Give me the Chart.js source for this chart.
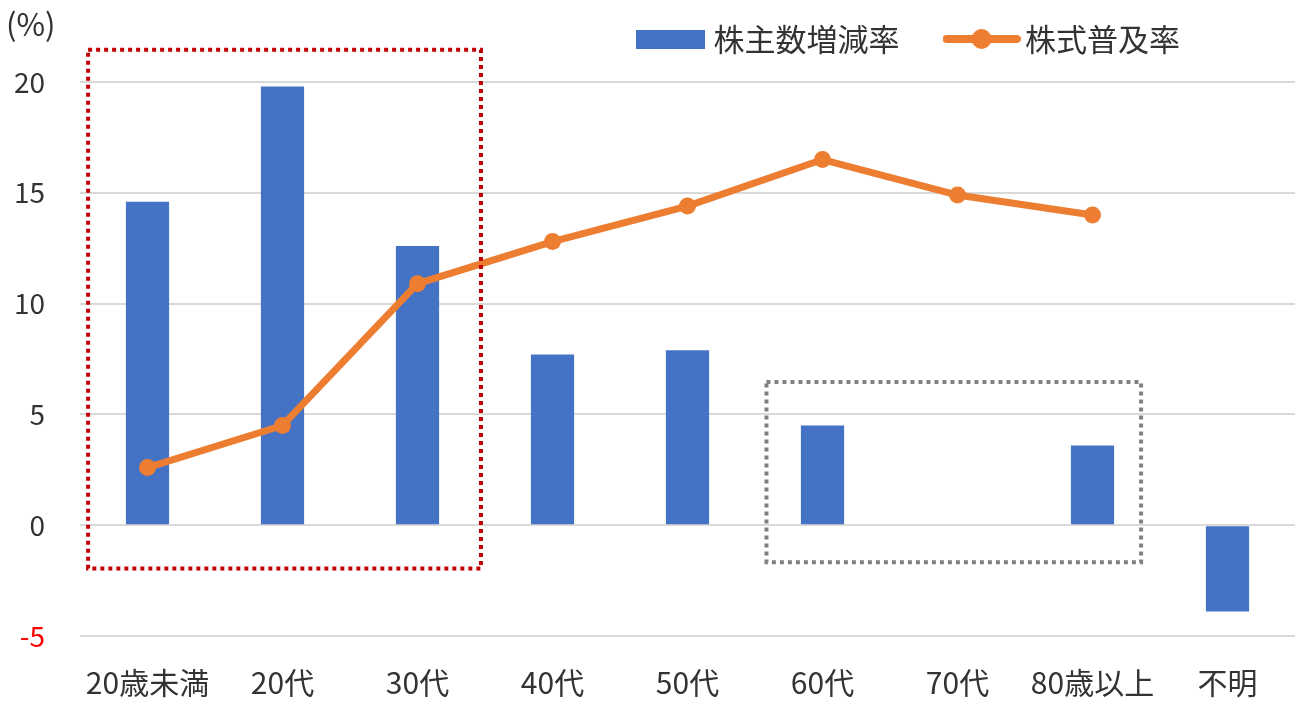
<!DOCTYPE html>
<html>
<head>
<meta charset="utf-8">
<script src="https://cdn.jsdelivr.net/npm/chart.js@4.4.1/dist/chart.umd.min.js"></script>
<style>
  html, body { margin: 0; padding: 0; background: #fff; }
  #wrap { width: 1304px; height: 706px; }
</style>
</head>
<body>
<div id="wrap"><canvas id="myChart"></canvas></div>
<script>
// data
const categories = ['20歳未満', '20代', '30代', '40代', '50代', '60代', '70代', '80歳以上', '不明'];
const holderChange = [14.6, 19.8, 12.6, 7.7, 7.9, 4.5, 0, 3.6, -3.9];   // 株主数増減率
const ownershipRate = [2.6, 4.5, 10.9, 12.8, 14.4, 16.5, 14.9, 14.0, null]; // 株式普及率
const yTicks = [-5, 0, 5, 10, 15, 20];

// dotted highlight frames, in axis units (category index / %)
const frames = [
    { x0: -0.44, x1: 2.47, y0: -1.95, y1: 21.45, color: '#C00000' },
    { x0: 4.585, x1: 7.36, y0: -1.67, y1: 6.46, color: '#808080' }
];

const FONT = "'Noto Sans CJK JP', 'Noto Sans', sans-serif";
const BLUE = '#4472C4';
const ORANGE = '#ED7D31';
const TEXT = '#333';

// legend symbols as small canvases
function barSymbol() {
    const c = document.createElement('canvas');
    c.width = 69; c.height = 19;
    const g = c.getContext('2d');
    g.fillStyle = BLUE;
    g.fillRect(0, 0, 69, 19);
    return c;
}
function lineSymbol() {
    const c = document.createElement('canvas');
    c.width = 78; c.height = 22;
    const g = c.getContext('2d');
    g.strokeStyle = ORANGE;
    g.lineWidth = 8;
    g.lineCap = 'round';
    g.beginPath();
    g.moveTo(4, 11);
    g.lineTo(74, 11);
    g.stroke();
    g.fillStyle = ORANGE;
    g.beginPath();
    g.arc(39, 11, 10, 0, Math.PI * 2);
    g.fill();
    return c;
}
const symbols = [barSymbol(), lineSymbol()];

const extras = {
    id: 'extras',
    afterInit(chart) {
        // legend band takes the space above the plot
        const fit = chart.legend.fit;
        chart.legend.fit = function () {
            fit.call(this);
            this.height = 82;
        };
    },
    beforeDraw(chart) {
        // place legend items like the original
        chart.legend.right = 1234;
        chart.legend.top = -30.5;
    },
    afterDraw(chart) {
        const ctx = chart.ctx;
        const xs = chart.scales.x, ys = chart.scales.y;
        ctx.save();
        // unit label
        ctx.font = '31px ' + FONT;
        ctx.fillStyle = TEXT;
        ctx.textBaseline = 'middle';
        ctx.textAlign = 'left';
        ctx.fillText('(%)', 6, 24);
        // frames
        ctx.lineWidth = 4;
        ctx.setLineDash([4, 4]);
        frames.forEach(f => {
            const l = xs.getPixelForValue(f.x0), r = xs.getPixelForValue(f.x1);
            const t = ys.getPixelForValue(f.y1), b = ys.getPixelForValue(f.y0);
            ctx.strokeStyle = f.color;
            ctx.strokeRect(l, t, r - l, b - t);
        });
        ctx.restore();
    }
};

const ctx = document.getElementById('myChart').getContext('2d');
new Chart(ctx, {
    data: {
        labels: categories,
        datasets: [{
            type: 'bar',
            label: '株主数増減率',
            data: holderChange,
            backgroundColor: BLUE,
            barPercentage: 0.32,
            categoryPercentage: 1,
            order: 1
        }, {
            type: 'line',
            label: '株式普及率',
            data: ownershipRate,
            borderColor: ORANGE,
            backgroundColor: ORANGE,
            borderWidth: 7,
            pointRadius: 8.5,
            pointBackgroundColor: ORANGE,
            pointBorderWidth: 0,
            tension: 0,
            order: 0
        }]
    },
    options: {
        responsive: true,
        maintainAspectRatio: false,
        animation: false,
        layout: { padding: { left: 0, right: 9, top: 0, bottom: 6 } },
        plugins: {
            tooltip: { enabled: false },
            legend: {
                position: 'top',
                align: 'end',
                labels: {
                    usePointStyle: true,
                    pointStyleWidth: 56,
                    padding: 54,
                    color: TEXT,
                    font: { family: FONT, size: 31 },
                    generateLabels(chart) {
                        return chart.data.datasets.map((ds, i) => ({
                            text: ds.label,
                            pointStyle: symbols[i],
                            fillStyle: ds.backgroundColor,
                            strokeStyle: ds.backgroundColor,
                            lineWidth: 0,
                            fontColor: TEXT,
                            hidden: false,
                            datasetIndex: i
                        }));
                    }
                }
            }
        },
        scales: {
            x: {
                afterFit(scale) { scale.height = 64; },
                grid: { display: false, drawTicks: false },
                border: { display: false },
                ticks: {
                    padding: 29,
                    color: TEXT,
                    font: { family: FONT, size: 30 },
                    maxRotation: 0
                }
            },
            y: {
                min: yTicks[0],
                max: yTicks[yTicks.length - 1],
                afterFit(scale) { scale.width = 80; },
                afterBuildTicks(scale) { scale.ticks = yTicks.map(v => ({ value: v })); },
                grid: { color: '#D9D9D9', lineWidth: 2, drawTicks: false },
                border: { display: false },
                ticks: {
                    padding: 35,
                    font: { family: FONT, size: 28 },
                    color: c => c.tick.value < 0 ? '#FF0000' : TEXT
                }
            }
        }
    },
    plugins: [extras]
});
</script>
</body>
</html>
